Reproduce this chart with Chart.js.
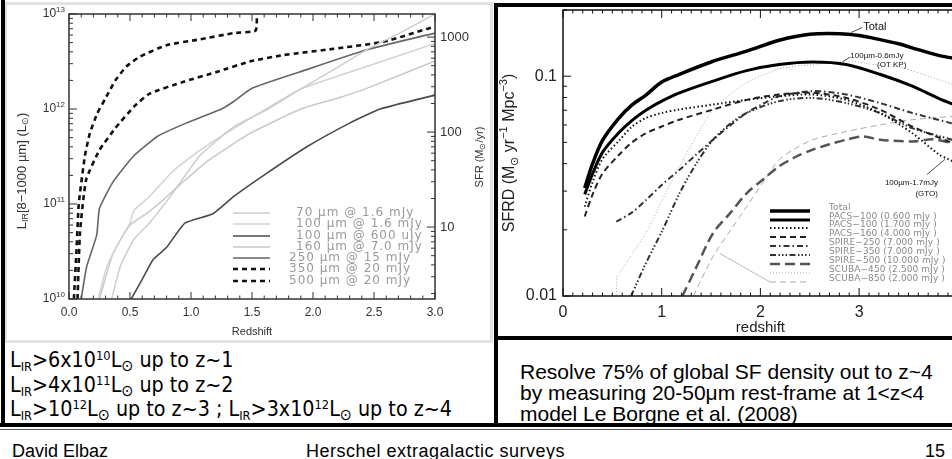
<!DOCTYPE html>
<html>
<head>
<meta charset="utf-8">
<script src="https://cdn.jsdelivr.net/npm/chart.js@4.4.1/dist/chart.umd.min.js"></script>
<style>
html, body { margin: 0; padding: 0; background: #fff; }
body { width: 952px; height: 459px; position: relative; overflow: hidden; font-family: "Liberation Sans", Arial, sans-serif; color: #000; }
.abs { position: absolute; }
#leftFrame { left: 4px; top: 2px; width: 489px; height: 341px; border: 3px solid #e2e2e2; box-sizing: border-box; }
#leftBar { left: 1px; top: 0; width: 4px; height: 427px; background: #000; }
#rightFrame { left: 494px; top: 3px; width: 480px; height: 337px; border-top: 4px solid #000; border-left: 4px solid #000; border-bottom: 4px solid #000; box-sizing: border-box; }
#midBar { left: 494px; top: 339px; width: 4px; height: 86px; background: #000; }
#bottomBar { left: 0; top: 423px; width: 952px; height: 4px; background: #000; }
#thinBar { left: 0; top: 429px; width: 952px; height: 1px; background: #555; }
#leftText { left: 10px; top: 348px; font-family: "DejaVu Sans Condensed", "DejaVu Sans", sans-serif; font-stretch: condensed; font-size: 21.3px; line-height: 24.5px; white-space: nowrap; }
#rightText { left: 520px; top: 361px; font-size: 21px; line-height: 21px; white-space: nowrap; }
.sub { font-size: 0.6em; vertical-align: -0.3em; line-height: 0; }
.sup { font-size: 0.6em; vertical-align: 0.55em; line-height: 0; }
.sun { font-size: 0.75em; vertical-align: -0.25em; line-height: 0; }
.foot { top: 442px; font-size: 18px; line-height: 18px; white-space: nowrap; }
canvas { position: absolute; }
</style>
</head>
<body>
<div id="leftFrame" class="abs"></div>
<div id="leftBar" class="abs"></div>
<div id="rightFrame" class="abs"></div>
<div id="midBar" class="abs"></div>
<div id="bottomBar" class="abs"></div>
<div id="thinBar" class="abs"></div>

<canvas id="lirChart" width="490" height="340" style="left:0;top:0"></canvas>
<canvas id="sfrdChart" width="600" height="328" style="left:498px;top:7px"></canvas>

<div id="leftText" class="abs">
L<span class="sub">IR</span>&gt;6x10<span class="sup">10</span>L<span class="sun">&#8857;</span> up to z~1<br>
L<span class="sub">IR</span>&gt;4x10<span class="sup">11</span>L<span class="sun">&#8857;</span> up to z~2<br>
L<span class="sub">IR</span>&gt;10<span class="sup">12</span>L<span class="sun">&#8857;</span> up to z~3 ; L<span class="sub">IR</span>&gt;3x10<span class="sup">12</span>L<span class="sun">&#8857;</span> up to z~4
</div>
<div id="rightText" class="abs">
Resolve 75% of global SF density out to z~4<br>
by measuring 20-50&mu;m rest-frame at 1&lt;z&lt;4<br>
model Le Borgne et al. (2008)
</div>

<div class="abs foot" style="left:12px">David Elbaz</div>
<div class="abs foot" style="left:306px;letter-spacing:0.5px">Herschel extragalactic surveys</div>
<div class="abs foot" style="right:7px">15</div>

<script>
// ---------- left panel: L_IR detection limits vs redshift ----------
const z70 = [0.35, 0.42, 0.53, 0.66, 0.85, 1.07, 1.35, 1.62, 1.89, 2.17, 2.44, 2.71, 3.0];
const lir70 = [1e10, 2.2e10, 4.2e10, 6.3e10, 1.3e11, 3.2e11, 6.5e11, 9.8e11, 1.6e12, 2.6e12, 4.2e12, 6.3e12, 1.0e13];

const z100a = [0.24, 0.31, 0.42, 0.5, 0.53, 0.66, 0.85, 1.1, 1.46, 1.89, 2.44, 3.0];
const lir100a = [1e10, 2.2e10, 4.2e10, 6.3e10, 8.5e10, 1.2e11, 2.2e11, 3.9e11, 7.6e11, 1.6e12, 2.8e12, 4.9e12];

const z100b = [0.51, 0.61, 0.69, 0.8, 0.95, 1.18, 1.35, 1.62, 1.95, 2.3, 2.55, 3.0];
const lir100b = [1e10, 1.7e10, 2.6e10, 3.5e10, 6.3e10, 7.9e10, 1.2e11, 2.1e11, 4.0e11, 7.1e11, 1.0e12, 1.4e12];

const z160 = [0.25, 0.36, 0.5, 0.64, 0.77, 0.91, 1.13, 1.48, 1.9, 2.2, 2.44, 3.0];
const lir160 = [1e10, 3.0e10, 6.0e10, 8.0e10, 1.1e11, 1.6e11, 2.8e11, 5.5e11, 1.0e12, 1.3e12, 1.65e12, 3.2e12];

const z250 = [0.10, 0.145, 0.227, 0.25, 0.36, 0.53, 0.73, 0.96, 1.25, 1.35, 1.5, 1.89, 2.44, 3.0];
const lir250 = [1e10, 2.2e10, 4.7e10, 9e10, 1.7e11, 3.2e11, 5.2e11, 7.1e11, 1.0e12, 1.2e12, 1.65e12, 2.45e12, 4.2e12, 6.3e12];

const z350 = [0.07, 0.09, 0.14, 0.25, 0.38, 0.53, 0.66, 0.94, 1.21, 1.48, 1.76, 2.17, 2.58, 3.0];
const lir350 = [1e10, 5e10, 1.8e11, 3.7e11, 6.3e11, 1.05e12, 1.45e12, 1.94e12, 2.45e12, 3.16e12, 3.7e12, 4.3e12, 5.1e12, 7.4e12];

const z500 = [0.04, 0.06, 0.08, 0.13, 0.17, 0.23, 0.3, 0.38, 0.47, 0.58, 0.8, 1.07, 1.35, 1.53, 1.54];
const lir500 = [1e10, 3e10, 1e11, 3.2e11, 5.5e11, 8.9e11, 1.3e12, 2.0e12, 2.8e12, 3.55e12, 4.7e12, 5.4e12, 6.3e12, 6.7e12, 1.1e13];

const leftLabels = ['70 \u00b5m @ 1.6 mJy', '100 \u00b5m @ 1.6 mJy', '100 \u00b5m @ 600 uJy', '160 \u00b5m @ 7.0 mJy',
  '250 \u00b5m @ 15 mJy', '350 \u00b5m @ 20 mJy', '500 \u00b5m @ 20 mJy'];
const zTicksLeft = [0, 0.5, 1.0, 1.5, 2.0, 2.5, 3.0];
const lirTicks = [1e10, 1e11, 1e12, 1e13];
const sfrTicks = [10, 100, 1000];

// ---------- right panel: SFRD model (Le Borgne et al. 2008) ----------
const zTotal = [0.22, 0.3, 0.4, 0.56, 0.7, 0.84, 1.0, 1.18, 1.5, 1.86, 2.2, 2.5, 2.8, 3.0, 3.2, 3.41, 3.6, 3.85, 4.0];
const sfrdTotal = [0.031, 0.040, 0.051, 0.064, 0.074, 0.082, 0.094, 0.102, 0.116, 0.130, 0.146, 0.155, 0.156, 0.153, 0.147, 0.140, 0.132, 0.123, 0.120];

const zPacs100a = [0.22, 0.3, 0.4, 0.56, 0.7, 0.84, 1.0, 1.18, 1.52, 1.86, 2.19, 2.53, 2.87, 3.21, 3.54, 3.81, 4.0];
const sfrdPacs100a = [0.029, 0.036, 0.045, 0.055, 0.063, 0.070, 0.077, 0.084, 0.095, 0.106, 0.113, 0.116, 0.113, 0.102, 0.090, 0.079, 0.073];

const zPacs100b = [0.22, 0.3, 0.4, 0.57, 0.7, 0.84, 1.0, 1.18, 1.52, 1.86, 2.19, 2.53, 2.87, 3.21, 3.54, 3.81, 3.9, 4.0];
const sfrdPacs100b = [0.0255, 0.033, 0.042, 0.051, 0.059, 0.0645, 0.068, 0.0705, 0.0743, 0.078, 0.081, 0.0825, 0.078, 0.068, 0.055, 0.044, 0.042, 0.040];

const zPacs160 = [0.22, 0.3, 0.4, 0.57, 0.7, 0.84, 1.0, 1.18, 1.52, 1.86, 2.19, 2.53, 2.87, 3.21, 3.54, 3.94, 4.0];
const sfrdPacs160 = [0.023, 0.029, 0.036, 0.044, 0.050, 0.055, 0.059, 0.0634, 0.0705, 0.078, 0.0825, 0.084, 0.0796, 0.0705, 0.059, 0.0497, 0.048];

const zSpire250 = [0.54, 0.7, 0.84, 1.0, 1.18, 1.35, 1.52, 1.7, 1.86, 2.03, 2.19, 2.53, 2.87, 3.21, 3.54, 3.94, 4.0];
const sfrdSpire250 = [0.0218, 0.024, 0.0273, 0.032, 0.0375, 0.044, 0.0514, 0.060, 0.068, 0.075, 0.081, 0.0855, 0.0825, 0.0755, 0.068, 0.061, 0.060];

const zSpire350 = [0.69, 0.84, 1.01, 1.18, 1.35, 1.52, 1.7, 1.86, 2.19, 2.53, 2.87, 3.21, 3.54, 3.94, 4.0];
const sfrdSpire350 = [0.010, 0.0141, 0.020, 0.0293, 0.040, 0.0514, 0.061, 0.068, 0.077, 0.0796, 0.0755, 0.068, 0.058, 0.0514, 0.050];

const zSpire500 = [1.21, 1.35, 1.52, 1.7, 1.86, 2.03, 2.19, 2.36, 2.53, 2.7, 2.87, 3.04, 3.21, 3.54, 3.75, 3.94, 4.0];
const sfrdSpire500 = [0.010, 0.0135, 0.0193, 0.024, 0.0293, 0.034, 0.0389, 0.043, 0.0463, 0.049, 0.0514, 0.0532, 0.0514, 0.0505, 0.0516, 0.0497, 0.049];

const zScuba450 = [0.54, 0.545, 0.57, 0.7, 0.84, 1.0, 1.18, 1.35, 1.52, 1.7, 1.86, 2.19, 2.53, 2.87, 3.21, 3.41, 3.7, 3.94, 4.0];
const sfrdScuba450 = [0.0095, 0.0122, 0.0126, 0.0155, 0.0193, 0.027, 0.0389, 0.053, 0.0705, 0.083, 0.0933, 0.108, 0.113, 0.117, 0.112, 0.110, 0.100, 0.092, 0.090];

const zScuba850 = [1.32, 1.52, 1.7, 1.86, 2.03, 2.19, 2.36, 2.53, 2.87, 3.21, 3.54, 3.94, 4.0];
const sfrdScuba850 = [0.010, 0.0151, 0.020, 0.0255, 0.033, 0.0417, 0.047, 0.0514, 0.056, 0.060, 0.0634, 0.0656, 0.066];

const rightLabels = ['Total', 'PACS\u2212100 (0.600 mJy )', 'PACS\u2212100 (1.700 mJy )', 'PACS\u2212160 (4.000 mJy )',
  'SPIRE\u2212250 (7.000 mJy )', 'SPIRE\u2212350 (7.000 mJy )', 'SPIRE\u2212500 (10.000 mJy )',
  'SCUBA\u2212450 (2.500 mJy )', 'SCUBA\u2212850 (2.000 mJy )'];
const zTicksRight = [0, 1, 2, 3, 4, 5];
const sfrdTicks = [0.01, 0.1];

// ---------- helpers ----------
function pts(xs, ys) {
    return xs.map((x, i) => ({ x: x, y: ys[i] }));
}

function line(ctx, x1, y1, x2, y2) {
    ctx.beginPath();
    ctx.moveTo(x1, y1);
    ctx.lineTo(x2, y2);
    ctx.stroke();
}

// segs: [text, kind] with kind 0 normal, 1 superscript, -1 subscript
function richText(ctx, segs, x, y, size, family, align) {
    const fnt = s => (s[1] === 0 ? size : Math.round(size * 0.7)) + 'px ' + family;
    let w = 0;
    segs.forEach(s => { ctx.font = fnt(s); w += ctx.measureText(s[0]).width; });
    let cx = align === 'right' ? x - w : align === 'center' ? x - w / 2 : x;
    ctx.textAlign = 'left';
    ctx.textBaseline = 'middle';
    segs.forEach(s => {
        ctx.font = fnt(s);
        const dy = s[1] === 1 ? -size * 0.38 : s[1] === -1 ? size * 0.28 : 0;
        ctx.fillText(s[0], cx, y + dy);
        cx += ctx.measureText(s[0]).width;
    });
}

function logTicks(lo, hi) {
    let out = [];
    for (let d = lo; d < hi * 1.0001; d *= 10) {
        for (let m = 1; m <= 9; m++) {
            const v = m * d;
            if (v >= lo * 0.9999 && v <= hi * 1.0001) out.push({ v: v, major: m === 1 });
        }
    }
    return out;
}

function ds(label, data, color, width, dash, tension) {
    return { label: label, data: data, borderColor: color, borderWidth: width, borderDash: dash || [],
        pointRadius: 0, fill: false, tension: tension };
}

const SANS = '"Liberation Sans", Arial, sans-serif';

// ---------- left chart ----------
const leftDeco = {
    id: 'leftDeco',
    afterDraw(chart) {
        const { ctx, chartArea: a, scales: { x, y, y2 } } = chart;
        ctx.save();
        ctx.strokeStyle = '#333';
        ctx.lineWidth = 1.5;
        ctx.strokeRect(a.left, a.top, a.right - a.left, a.bottom - a.top);
        ctx.lineWidth = 1;
        for (let i = 0; i <= 30; i++) {
            const px = x.getPixelForValue(i / 10), len = i % 5 === 0 ? 7 : 3.5;
            line(ctx, px, a.bottom, px, a.bottom - len);
            line(ctx, px, a.top, px, a.top + len);
        }
        logTicks(lirTicks[0], lirTicks[lirTicks.length - 1]).forEach(t => {
            const py = y.getPixelForValue(t.v);
            line(ctx, a.left, py, a.left + (t.major ? 8 : 4), py);
        });
        logTicks(1, 1000).forEach(t => {
            if (t.v < y2.min || t.v > y2.max) return;
            const py = y2.getPixelForValue(t.v);
            line(ctx, a.right, py, a.right - (t.major ? 8 : 4), py);
        });

        ctx.fillStyle = '#333';
        ctx.font = '12px ' + SANS;
        ctx.textAlign = 'center';
        ctx.textBaseline = 'middle';
        zTicksLeft.forEach(v => ctx.fillText(v.toFixed(1), x.getPixelForValue(v), a.bottom + 14));
        ctx.font = '11px ' + SANS;
        ctx.fillText('Redshift', (a.left + a.right) / 2, a.bottom + 33);
        lirTicks.forEach(v => {
            richText(ctx, [['10', 0], [String(Math.round(Math.log10(v))), 1]], a.left - 4, y.getPixelForValue(v), 12, SANS, 'right');
        });
        ctx.font = '13px ' + SANS;
        ctx.textAlign = 'left';
        sfrTicks.forEach(v => ctx.fillText(String(v), a.right + 5, y2.getPixelForValue(v)));

        // axis titles
        ctx.save();
        ctx.translate(22, 171);
        ctx.rotate(-Math.PI / 2);
        richText(ctx, [['L', 0], ['IR', -1], ['[8\u22121000 \u00b5m] (L', 0], ['\u2299', -1], [')', 0]], 0, 0, 13, SANS, 'center');
        ctx.restore();
        ctx.save();
        ctx.translate(480, 157);
        ctx.rotate(-Math.PI / 2);
        richText(ctx, [['SFR (M', 0], ['\u2299', -1], ['/yr)', 0]], 0, 0, 11, SANS, 'center');
        ctx.restore();

        // legend
        const rowY = [213, 224, 236, 247, 258, 269, 281];
        const textX = [296, 296, 296, 296, 289, 289, 289];
        chart.data.datasets.forEach((d, i) => {
            ctx.strokeStyle = d.borderColor;
            ctx.lineWidth = d.borderWidth;
            ctx.setLineDash(d.borderDash);
            line(ctx, 233, rowY[i], 270, rowY[i]);
            ctx.setLineDash([]);
            ctx.fillStyle = '#9a9a9a';
            ctx.font = '12px "DejaVu Sans", sans-serif';
            ctx.letterSpacing = '1px';
            ctx.textAlign = 'left';
            ctx.fillText(d.label, textX[i], rowY[i]);
            ctx.letterSpacing = '0px';
        });
        ctx.restore();
    }
};

new Chart(document.getElementById('lirChart').getContext('2d'), {
    type: 'line',
    data: {
        datasets: [
            ds(leftLabels[0], pts(z70, lir70), '#cdcdcd', 1.5, null, 0.15),
            ds(leftLabels[1], pts(z100a, lir100a), '#d2d2d2', 1.5, null, 0.15),
            ds(leftLabels[2], pts(z100b, lir100b), '#4a4a4a', 1.6, null, 0.15),
            ds(leftLabels[3], pts(z160, lir160), '#c9c9c9', 1.5, null, 0.15),
            ds(leftLabels[4], pts(z250, lir250), '#666666', 1.6, null, 0.15),
            ds(leftLabels[5], pts(z350, lir350), '#111111', 2.6, [5, 4], 0.15),
            ds(leftLabels[6], pts(z500, lir500), '#111111', 2.6, [5, 4], 0.15)
        ]
    },
    options: {
        responsive: false,
        animation: false,
        devicePixelRatio: 1,
        layout: { padding: { left: 69, right: 55, top: 14, bottom: 41 } },
        plugins: { legend: { display: false }, tooltip: { enabled: false } },
        scales: {
            x: { type: 'linear', min: 0, max: 3, display: false },
            y: { type: 'logarithmic', min: 1e10, max: 1e13, display: false },
            y2: { type: 'logarithmic', min: 1.75, max: 1750, display: false, position: 'right' }
        }
    },
    plugins: [leftDeco]
});

// ---------- right chart ----------
const rightDeco = {
    id: 'rightDeco',
    afterDraw(chart) {
        const { ctx, chartArea: a, scales: { x, y } } = chart;
        ctx.save();
        ctx.strokeStyle = '#111';
        ctx.lineWidth = 1.5;
        ctx.strokeRect(a.left, a.top, a.right - a.left, a.bottom - a.top);
        ctx.lineWidth = 1;
        for (let i = 0; i <= 50; i++) {
            const px = x.getPixelForValue(i / 10), len = i % 10 === 0 ? 8 : 3.5;
            line(ctx, px, a.bottom, px, a.bottom - len);
            line(ctx, px, a.top, px, a.top + len);
        }
        logTicks(0.01, 0.2).forEach(t => {
            if (t.v > y.max) return;
            const py = y.getPixelForValue(t.v);
            line(ctx, a.left, py, a.left + (t.major ? 8 : 4), py);
        });

        ctx.fillStyle = '#222';
        ctx.font = '16px ' + SANS;
        ctx.textBaseline = 'middle';
        ctx.textAlign = 'center';
        zTicksRight.forEach(v => ctx.fillText(String(v), x.getPixelForValue(v), a.bottom + 17));
        ctx.font = '15px ' + SANS;
        ctx.fillText('redshift', x.getPixelForValue(2), a.bottom + 32);
        ctx.font = '16px ' + SANS;
        ctx.textAlign = 'right';
        sfrdTicks.forEach(v => ctx.fillText(String(v), a.left - 6, y.getPixelForValue(v)));
        ctx.save();
        ctx.translate(12, (a.top + a.bottom) / 2);
        ctx.rotate(-Math.PI / 2);
        richText(ctx, [['SFRD (M', 0], ['\u2299', -1], [' yr', 0], ['\u22121', 1], [' Mpc', 0], ['\u22123', 1], [')', 0]], 0, 0, 16, SANS, 'center');
        ctx.restore();

        // labels on the curves
        ctx.strokeStyle = '#222';
        ctx.lineWidth = 0.8;
        ctx.fillStyle = '#111';
        ctx.textAlign = 'left';
        let px = x.getPixelForValue(2.92), py = y.getPixelForValue(0.158);
        line(ctx, px, py, px + 11, py - 5);
        ctx.font = '11px ' + SANS;
        ctx.fillText('Total', px + 12, py - 6);
        px = x.getPixelForValue(2.83); py = y.getPixelForValue(0.116);
        line(ctx, px, py, px + 8, py - 5);
        ctx.font = '8px ' + SANS;
        ctx.fillText('100\u00b5m-0.6mJy', px + 8, py - 6);
        ctx.textAlign = 'right';
        ctx.fillText('(OT KP)', px + 64, py + 3);
        px = x.getPixelForValue(3.87); py = y.getPixelForValue(0.0418);
        line(ctx, px, py, px - 18, py + 15);
        ctx.fillText('100\u00b5m-1.7mJy', px - 7, py + 23);
        ctx.fillText('(GTO)', px - 7, py + 34);

        // legend
        const rowY = [211, 220, 228, 237, 246, 255, 264, 273, 282];
        chart.data.datasets.forEach((d, i) => {
            const ly = rowY[i] - 7;
            ctx.strokeStyle = d.borderColor;
            ctx.lineWidth = d.borderWidth;
            ctx.setLineDash(d.borderDash);
            line(ctx, 272, ly, 312, ly);
            ctx.setLineDash([]);
            ctx.fillStyle = '#8a8a8a';
            ctx.font = '9px "DejaVu Sans", sans-serif';
            ctx.letterSpacing = '0.1px';
            ctx.textAlign = 'left';
            ctx.fillText(d.label, 331, ly - 3);
            ctx.letterSpacing = '0px';
        });
        // pointer from legend to SCUBA-850 curve
        ctx.strokeStyle = '#aaa';
        ctx.lineWidth = 0.8;
        line(ctx, x.getPixelForValue(1.59), y.getPixelForValue(0.0156), 272, rowY[8] - 7);
        ctx.restore();
    }
};

new Chart(document.getElementById('sfrdChart').getContext('2d'), {
    type: 'line',
    data: {
        datasets: [
            ds(rightLabels[0], pts(zTotal, sfrdTotal), '#000', 3.5, null, 0.3),
            ds(rightLabels[1], pts(zPacs100a, sfrdPacs100a), '#000', 3, null, 0.3),
            ds(rightLabels[2], pts(zPacs100b, sfrdPacs100b), '#111', 2, [1.5, 2.5], 0.3),
            ds(rightLabels[3], pts(zPacs160, sfrdPacs160), '#222', 2, [6, 4], 0.3),
            ds(rightLabels[4], pts(zSpire250, sfrdSpire250), '#333', 2, [6, 3, 1.5, 3], 0.3),
            ds(rightLabels[5], pts(zSpire350, sfrdSpire350), '#333', 2, [6, 2.5, 1.5, 2, 1.5, 2, 1.5, 2.5], 0.3),
            ds(rightLabels[6], pts(zSpire500, sfrdSpire500), '#555', 2.5, [10, 5], 0.3),
            ds(rightLabels[7], pts(zScuba450, sfrdScuba450), '#aaa', 1, [1, 2], 0.3),
            ds(rightLabels[8], pts(zScuba850, sfrdScuba850), '#aaa', 1, [6, 4], 0.3)
        ]
    },
    options: {
        responsive: false,
        animation: false,
        devicePixelRatio: 1,
        layout: { padding: { left: 65, right: 41.5, top: 3, bottom: 39 } },
        plugins: { legend: { display: false }, tooltip: { enabled: false } },
        scales: {
            x: { type: 'linear', min: 0, max: 5, display: false },
            y: { type: 'logarithmic', min: 0.01, max: 0.2, display: false }
        }
    },
    plugins: [rightDeco]
});
</script>
</body>
</html>
